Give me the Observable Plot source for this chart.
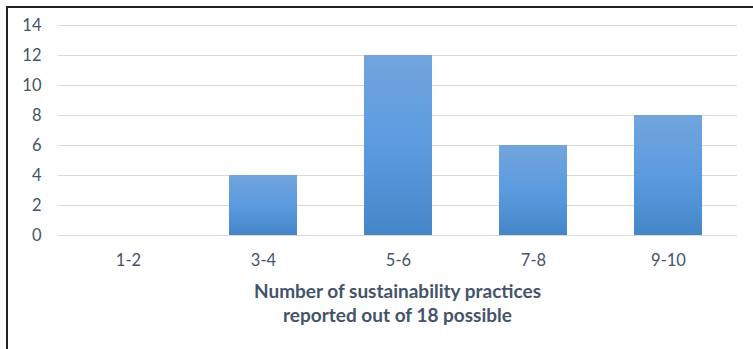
<!DOCTYPE html>
<html><head><meta charset="utf-8">
<script src="https://cdn.jsdelivr.net/npm/d3@7"></script>
<script src="https://cdn.jsdelivr.net/npm/@observablehq/plot@0.6"></script>
<style>
body{margin:0;background:#fff;font-family:Lato,"Open Sans",sans-serif;}
#frame{position:absolute;left:6px;top:6px;width:760px;height:360px;border-top:2px solid #222;border-left:2px solid #222;box-sizing:border-box;overflow:hidden;}
#title{width:745px;box-sizing:border-box;padding-left:50px;padding-right:16px;text-align:center;font-weight:bold;font-size:19px;line-height:24px;color:#44546a;margin-top:6px;}
</style></head><body>
<div id="frame"><div id="chart"></div><div id="title">Number of sustainability practices<br>reported out of 18 possible</div></div>
<script>
const categories = ["1-2","3-4","5-6","7-8","9-10"];
const counts = [0,4,12,6,8];
const yTicks = [0,2,4,6,8,10,12,14];
const data = categories.map((c,i)=>({cat:c, n:counts[i]}));
const plot = Plot.plot({
  width:745, height:265,
  marginTop:17, marginBottom:38, marginLeft:50, marginRight:16,
  style:{fontFamily:"Lato, 'Open Sans', sans-serif", fontSize:"16.5px", color:"#44546a", background:"transparent"},
  x:{domain:categories, paddingInner:0.5, paddingOuter:0.25, label:null, tickSize:0, tickPadding:19},
  y:{domain:[0,14], ticks:yTicks, label:null, tickSize:0, tickPadding:17, grid:false},
  marks:[
    Plot.gridY(yTicks,{stroke:"#d9d9d9", strokeOpacity:1, strokeWidth:1}),
    Plot.barY(data,{x:"cat", y:"n", fill:"url(#barGrad)"})
  ]
});
const svg = d3.select(plot);
const g = svg.insert("defs",":first-child").append("linearGradient").attr("id","barGrad").attr("x1",0).attr("y1",0).attr("x2",0).attr("y2",1);
g.append("stop").attr("offset","0%").attr("stop-color","#71a5dc");
g.append("stop").attr("offset","50%").attr("stop-color","#5b9be0");
g.append("stop").attr("offset","100%").attr("stop-color","#4586c8");
document.getElementById("chart").appendChild(plot);
</script>
</body></html>
